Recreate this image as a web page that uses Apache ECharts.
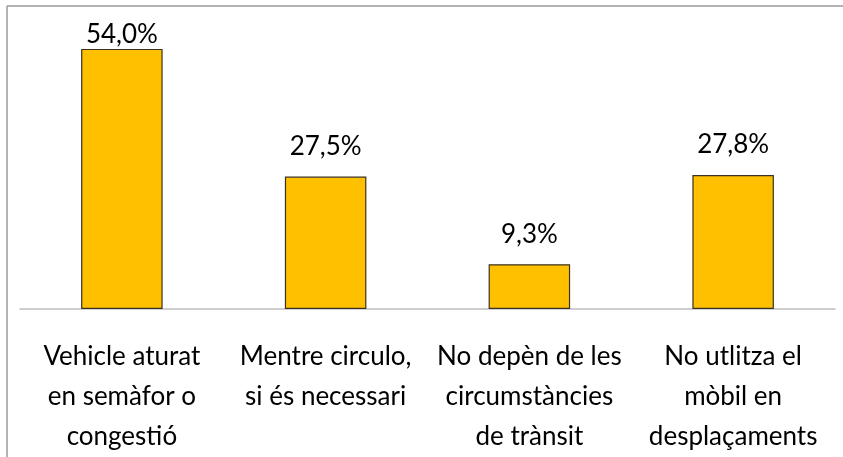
<!DOCTYPE html>
<html>
<head>
<meta charset="utf-8">
<script src="https://cdn.jsdelivr.net/npm/echarts@6/dist/echarts.min.js"></script>
<style>
  html, body { margin: 0; padding: 0; background: #fff; }
  #chart { width: 843px; height: 457px; }
</style>
</head>
<body>
<div id="chart"></div>
<script>
const categories = [
  'Vehicle aturat\nen semàfor o\ncongestió',
  'Mentre circulo,\nsi és necessari',
  'No depèn de les\ncircumstàncies\nde trànsit',
  'No utlitza el\nmòbil en\ndesplaçaments'
];
const values = [54.0, 27.5, 9.3, 27.8];

const chart = echarts.init(document.getElementById('chart'));
const fontFamily = 'Lato, "Open Sans", sans-serif';

// the tallest bar's label sits tight against the top of the plot
const barData = values.map((v, i) => ({
  value: v,
  label: { distance: i === 0 ? 1 : 17 }
}));

chart.setOption({
  animation: false,
  grid: {
    left: 20,
    right: 8,
    top: 20,
    bottom: 147,
    containLabel: false
  },
  graphic: [
    // frame of the chart area
    { type: 'line', shape: { x1: 7, y1: 6, x2: 843, y2: 6 }, style: { stroke: '#9a9a9a', lineWidth: 1.5 } },
    { type: 'line', shape: { x1: 7, y1: 6, x2: 7, y2: 457 }, style: { stroke: '#9a9a9a', lineWidth: 1.5 } }
  ],
  xAxis: {
    type: 'category',
    data: categories,
    axisTick: { show: false },
    axisLine: { show: true, lineStyle: { color: '#bfbfbf', width: 1.5 } },
    axisLabel: {
      color: '#000',
      fontSize: 26,
      fontFamily: fontFamily,
      lineHeight: 40,
      margin: 28,
      interval: 0
    }
  },
  yAxis: {
    type: 'value',
    min: 0,
    max: 60,
    show: false,
    splitLine: { show: false }
  },
  series: [{
    type: 'bar',
    data: barData,
    barCategoryGap: '60%',
    itemStyle: {
      color: '#FFC000',
      borderColor: '#3a3222',
      borderWidth: 1.2
    },
    label: {
      show: true,
      position: 'top',
      color: '#000',
      fontSize: 26,
      fontFamily: fontFamily,
      formatter: p => p.value.toFixed(1).replace('.', ',') + '%'
    }
  }]
});
window.addEventListener('resize', function () {
  chart.resize();
});
</script>
</body>
</html>
